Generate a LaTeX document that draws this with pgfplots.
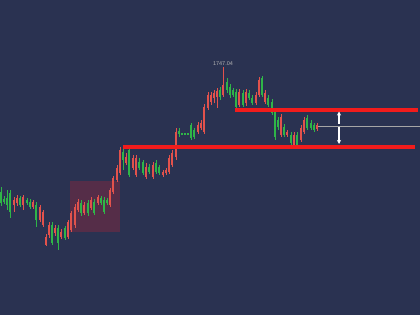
\documentclass[border=0pt]{standalone}
\usepackage{pgfplots}
\pgfplotsset{compat=1.18}
\usepackage{pgfplotstable}
\usepackage{fontspec}
\setmainfont{Liberation Sans}
\usetikzlibrary{arrows.meta}
\definecolor{bgcol}{HTML}{2A3251}
\definecolor{cred}{HTML}{E2524C}
\definecolor{cgreen}{HTML}{2FB548}
\definecolor{lred}{HTML}{F21C1C}
\definecolor{wm}{HTML}{7A2A42}
\pgfplotstableread{
x top bot hi lo
14 200 205 197 212
17 198 203 195 206
23 197 205 195 210
33 202 207 200 209
40 207 220 205 222
43 212 225 210 227
46 237 245 234 246
49 225 235 222 238
55 228 233 225 236
61 232 237 229 239
68 222 237 220 239
71 213 230 211 232
75 207 225 204 228
78 202 210 199 212
84 205 213 202 215
91 200 208 197 210
98 197 203 195 205
110 190 205 188 207
113 178 192 176 194
117 168 180 165 182
120 150 173 147 175
126 157 163 153 165
133 158 168 155 170
136 158 175 155 177
146 167 177 163 179
153 165 177 162 179
163 172 175 170 177
166 170 173 168 175
169 158 172 155 174
172 153 165 150 167
176 132 157 128 160
198 125 132 122 134
201 123 128 120 130
204 107 132 104 134
208 95 108 92 110
211 95 102 92 105
214 93 98 90 103
217 91 97 88 108
223 85 95 67 97
239 92 105 89 107
246 92 103 89 106
256 95 103 92 105
259 80 95 77 97
265 93 102 90 104
281 117 135 114 137
287 132 135 130 137
294 135 145 132 146
301 128 140 125 142
304 120 132 117 134
317 125 129 123 131
}\redc
\pgfplotstableread{
x top bot hi lo
1 192 203 187 206
4 199 202 196 204
7 198 205 190 210
10 193 212 190 218
20 198 205 196 207
27 200 203 198 205
30 202 207 199 209
36 205 220 202 227
52 225 243 222 245
58 228 243 225 250
65 228 238 226 240
81 203 213 200 216
88 203 213 200 216
94 202 213 199 215
101 198 203 196 205
104 200 212 197 214
107 200 203 198 205
123 152 160 148 170
129 150 175 148 177
139 162 168 158 170
143 162 173 160 175
149 167 172 164 174
156 163 172 160 174
159 167 173 165 175
179 131 134 128 137
182 133 135 133 135
185 133 135 133 135
188 133 135 133 135
191 125 138 123 140
194 130 137 128 139
220 90 97 87 100
227 82 90 78 93
230 87 95 84 98
233 90 95 88 97
236 92 107 89 109
243 93 105 90 107
249 93 98 90 100
252 98 103 95 105
262 78 95 76 97
268 98 105 95 107
272 102 113 99 115
275 112 137 110 140
278 120 127 117 130
284 127 135 124 137
291 135 143 132 145
297 135 145 132 146
307 118 128 115 130
311 123 128 120 130
314 125 130 123 132
}\greenc
\pgfplotsset{
  candle/.style 2 args={draw=none, mark=none, forget plot,
    error bars/.cd, y dir=both, y explicit, error mark=none,
    error bar style={line width=#2, draw=#1, solid}},
}
\begin{document}
\begin{tikzpicture}
\fill[bgcol] (0,0) rectangle (420pt,315pt);
\begin{axis}[
  at={(0,0)}, anchor=south west,
  scale only axis, width=420pt, height=315pt,
  xmin=0, xmax=420, ymin=0, ymax=315, y dir=reverse,
  hide axis,
  clip=true,
]
% watermark box
\addplot[fill=wm, fill opacity=0.55, draw=none, mark=none] coordinates {(70,181) (120,181) (120,232) (70,232)} -- cycle;
% wicks
\addplot[candle={cred}{0.7pt}]
  table[x=x, y expr={(\thisrow{hi}+\thisrow{lo})/2}, y error expr={(\thisrow{lo}-\thisrow{hi})/2}] {\redc};
\addplot[candle={cgreen}{0.7pt}]
  table[x=x, y expr={(\thisrow{hi}+\thisrow{lo})/2}, y error expr={(\thisrow{lo}-\thisrow{hi})/2}] {\greenc};
% bodies
\addplot[candle={cred}{2.3pt}]
  table[x=x, y expr={(\thisrow{top}+\thisrow{bot})/2}, y error expr={(\thisrow{bot}-\thisrow{top})/2}] {\redc};
\addplot[candle={cgreen}{2.3pt}]
  table[x=x, y expr={(\thisrow{top}+\thisrow{bot})/2}, y error expr={(\thisrow{bot}-\thisrow{top})/2}] {\greenc};
% current price line
\addplot[draw=gray!70, line width=0.6pt, mark=none] coordinates {(318,126) (420,126)};
% support / resistance
\addplot[draw=lred, line width=3.8pt, mark=none] coordinates {(235,110) (418,110)};
\addplot[draw=lred, line width=3.8pt, mark=none] coordinates {(123,147) (415,147)};
% arrows
\addplot[draw=white, line width=1.3pt, mark=none, -{Stealth[length=4pt,width=4pt]}] coordinates {(339,124) (339,111.5)};
\addplot[draw=white, line width=1.3pt, mark=none, -{Stealth[length=4pt,width=4pt]}] coordinates {(339,127.5) (339,144)};
\node[font=\fontsize{5.5}{6}\selectfont, text=gray!60] at (axis cs:223,64) {1747.04};
\end{axis}
\end{tikzpicture}
\end{document}
